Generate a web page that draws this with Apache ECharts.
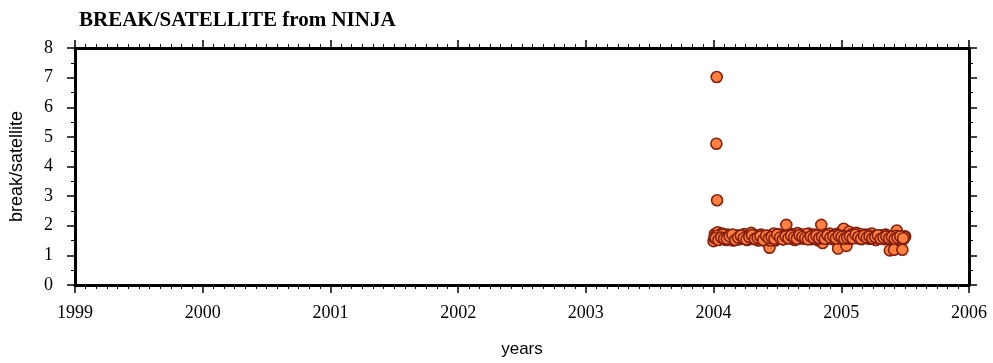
<!DOCTYPE html>
<html><head><meta charset="utf-8">
<script src="https://cdn.jsdelivr.net/npm/echarts@6/dist/echarts.min.js"></script>
<style>html,body{margin:0;padding:0;background:#fff}#c{width:993px;height:363px}</style>
</head><body><div id="c"></div>
<script>
const title = "BREAK/SATELLITE from NINJA";
const xName = "years";
const yName = "break/satellite";
const startYear = 2004;
// day offsets from 2004-01-01
const days = [
  8, 9, 10,
  0,4,8,12,16,20,24,28,32,36,40,44,48,52,56,60,64,68,72,76,80,84,88,92,96,100,
  104,108,112,116,120,124,128,132,136,140,144,148,152,156,160,164,168,172,176,180,
  184,188,192,196,200,204,208,212,216,220,224,228,232,236,240,244,248,252,256,260,
  264,268,272,276,280,284,288,292,296,300,304,308,312,316,320,324,328,332,336,340,
  344,348,352,356,360,364,368,372,376,380,384,388,392,396,400,404,408,412,416,420,
  424,428,432,436,440,444,448,452,456,460,464,468,472,476,480,484,488,492,496,500,
  504,508,512,516,520,524,528,532,536,540,544,548,
  2,10,18,26,34,42,50,58,66,74,82,90,98,106,114,122,130,138,146,154,162,170,178,186,
  194,202,210,218,226,234,242,250,258,266,274,282,290,298,306,314,322,330,338,346,
  354,362,370,378,386,394,402,410,418,426,434,442,450,458,466,474,482,490,498,506,
  514,522,530,538,546,
  6,14,22,30,38,46,54,62,70,78,86,94,102,110,118,126,134,142,150,158,166,174,182,190,
  198,206,214,222,230,238,246,254,262,270,278,286,294,302,310,318,326,334,342,350,
  358,366,374,382,390,398,406,414,422,430,438,446,454,462,470,478,486,494,502,510,
  518,526,534,542
];
const ratio = [
  4.77, 7.02, 2.86,
  1.48,1.72,1.62,1.78,1.55,1.68,1.74,1.58,1.64,1.52,1.70,1.60,1.55,1.66,1.50,1.62,1.58,1.68,1.54,1.63,1.57,1.66,1.72,1.60,1.52,1.65,
  1.58,1.76,1.62,1.55,1.68,1.60,1.50,1.64,1.70,1.56,1.60,1.48,1.66,1.58,1.26,1.55,1.62,1.74,1.50,1.66,
  1.72,1.58,1.64,1.68,1.55,1.70,2.03,1.62,1.58,1.72,1.66,1.60,1.52,1.68,1.75,1.62,1.58,1.70,1.64,1.56,
  1.68,1.62,1.74,1.60,1.55,1.66,1.70,1.62,1.58,1.50,1.66,2.03,1.42,1.62,1.70,1.58,1.66,1.74,1.60,1.55,
  1.68,1.64,1.72,1.23,1.62,1.78,1.66,1.90,1.58,1.32,1.64,1.80,1.56,1.70,1.62,1.68,1.76,1.58,1.64,1.72,
  1.55,1.66,1.60,1.70,1.62,1.56,1.68,1.74,1.58,1.64,1.52,1.66,1.60,1.56,1.68,1.62,1.55,1.70,1.60,1.66,
  1.17,1.58,1.64,1.19,1.62,1.84,1.56,1.60,1.48,1.19,1.56,1.64,
  1.60,1.66,1.54,1.70,1.58,1.62,1.66,1.56,1.64,1.60,1.68,1.55,1.62,1.66,1.58,1.64,1.52,1.62,1.58,1.66,1.50,1.60,1.64,1.56,
  1.62,1.66,1.58,1.64,1.70,1.60,1.56,1.66,1.62,1.72,1.58,1.64,1.60,1.55,1.68,1.62,1.66,1.58,1.64,1.60,1.70,1.56,1.66,1.62,
  1.58,1.70,1.62,1.66,1.58,1.64,1.60,1.68,1.56,1.62,1.66,1.58,1.64,1.60,1.56,1.62,1.58,1.66,1.54,1.60,
  1.62,1.58,1.52,1.60,1.56,
  1.56,1.64,1.70,1.52,1.60,1.66,1.58,1.54,1.62,1.68,1.56,1.60,1.64,1.52,1.66,1.58,1.62,1.56,1.70,1.60,1.54,1.64,1.58,1.66,
  1.60,1.56,1.68,1.62,1.58,1.54,1.64,1.60,1.66,1.58,1.62,1.56,1.68,1.60,1.64,1.58,1.66,1.62,1.56,1.60,
  1.64,1.58,1.70,1.62,1.56,1.66,1.60,1.64,1.58,1.62,1.68,1.56,1.60,1.64,1.58,1.62,1.56,1.60,1.64,1.58,
  1.62,1.56,1.60,1.58
];
const xTicks = [1999,2000,2001,2002,2003,2004,2005,2006];
const yTicks = [0,1,2,3,4,5,6,7,8];

const pts = days.map((d,i)=>[startYear + d/365.25, ratio[i]]);
const chart = echarts.init(document.getElementById('c'), null, {renderer:'canvas'});
const serif = '"Liberation Serif","Times New Roman",serif';
const sans = '"Liberation Sans",Arial,sans-serif';
const axLine = {show:true, onZero:false, lineStyle:{color:'#000', width:3}};
function xAx(pos, showLabel){
  return {type:'value', position:pos, min:xTicks[0], max:xTicks[xTicks.length-1], interval:1,
    axisLine:axLine, axisTick:{show:true, inside:false, length:8, lineStyle:{color:'#000', width:1.5}},
    minorTick:{show:true, splitNumber:12, length:4, lineStyle:{color:'#000', width:1}},
    splitLine:{show:false},
    axisLabel:{show:showLabel, color:'#000', fontFamily:serif, fontSize:18, margin:19, formatter:v=>String(v)},
    name: showLabel ? xName : '', nameLocation:'middle', nameGap:56,
    nameTextStyle:{fontFamily:sans, fontSize:17, color:'#000'}};
}
function yAx(pos, showLabel){
  return {type:'value', position:pos, min:yTicks[0], max:yTicks[yTicks.length-1], interval:1,
    axisLine:axLine, axisTick:{show:true, inside:false, length:8, lineStyle:{color:'#000', width:1.5}},
    minorTick:{show:true, splitNumber:2, length:4, lineStyle:{color:'#000', width:1}},
    splitLine:{show:false},
    axisLabel:{show:showLabel, color:'#000', fontFamily:serif, fontSize:18, margin:22, formatter:v=>String(v)},
    name: showLabel ? yName : '', nameLocation:'middle', nameGap:49, nameRotate:90,
    nameTextStyle:{fontFamily:sans, fontSize:18, color:'#000'}};
}
chart.setOption({
  animation:false,
  backgroundColor:'#fff',
  title:{text:title, left:74, top:5, textStyle:{fontFamily:serif, fontWeight:'bold', fontSize:21, color:'#000'}},
  grid:{left:74, right:24, top:48, bottom:77},
  xAxis:[xAx('bottom', true), xAx('top', false)],
  yAxis:[yAx('left', true), yAx('right', false)],
  series:[
    {type:'scatter', xAxisIndex:0, yAxisIndex:0, data:pts, symbol:'circle', symbolSize:11,
      itemStyle:{color:'#FF8142', borderColor:'#86200F', borderWidth:1.6, opacity:1}},
    {type:'scatter', xAxisIndex:1, yAxisIndex:1, data:[], silent:true}
  ]
});
</script></body></html>
